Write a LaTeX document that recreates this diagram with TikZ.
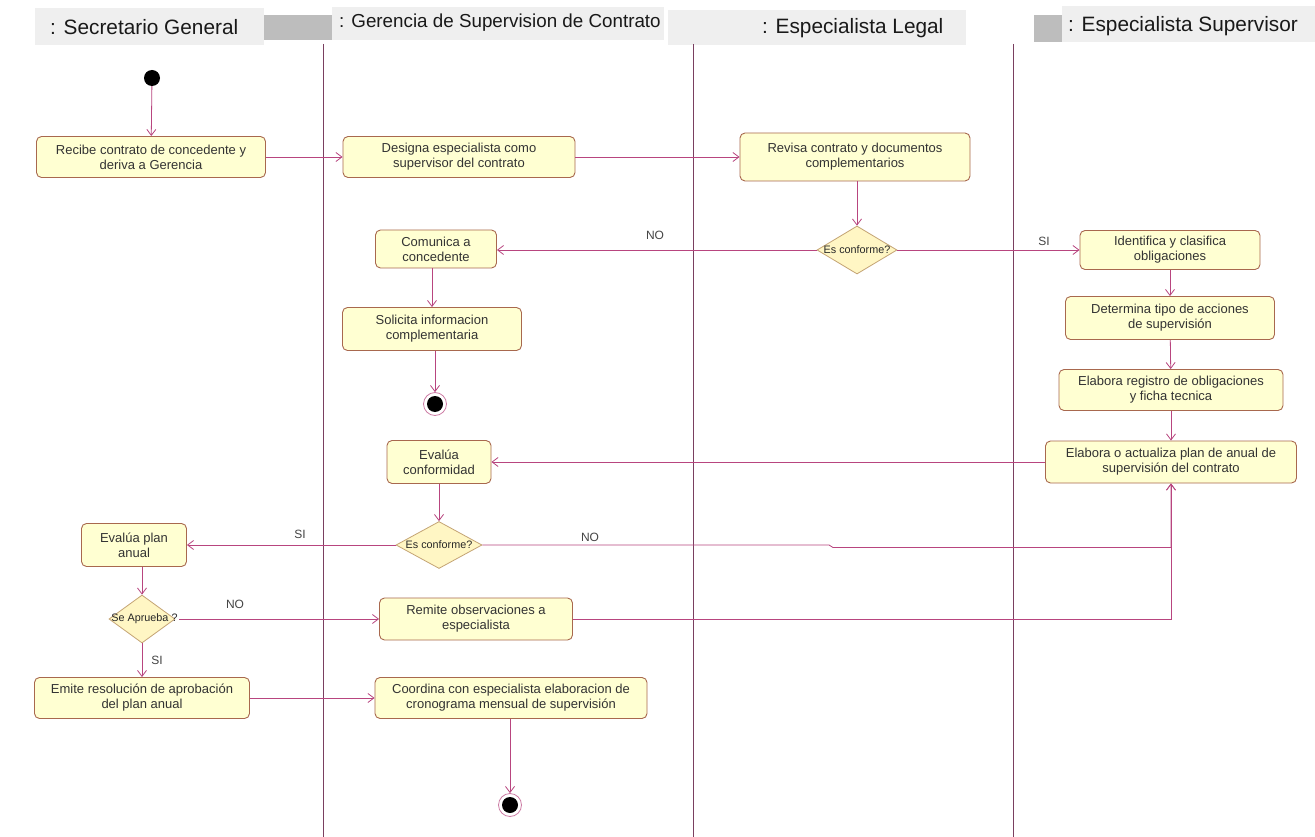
\documentclass[tikz,border=0pt]{standalone}
\usepackage{fontspec}
\setmainfont{Liberation Sans}
\usetikzlibrary{arrows.meta,shapes.geometric}
\definecolor{flow}{HTML}{B8457F}
\definecolor{lane}{HTML}{7A3F60}
\definecolor{actfill}{HTML}{FFFFD2}
\definecolor{actdraw}{HTML}{A8684E}
\definecolor{decfill}{HTML}{FFF6C4}
\definecolor{decdraw}{HTML}{C4A474}
\definecolor{hdr}{HTML}{EFEFEF}
\definecolor{hdrdark}{HTML}{BDBDBD}
\definecolor{lbl}{HTML}{444444}

\begin{document}
\begin{tikzpicture}[x=1pt,y=-1pt,
  act/.style={draw=actdraw, fill=actfill, rounded corners=5pt, line width=0.9pt,
    minimum height=41pt, align=center, font=\fontsize{13}{15}\selectfont,
    text=black!80, inner sep=2pt},
  dec/.style={diamond, draw=decdraw, fill=decfill, line width=0.8pt,
    minimum width=80pt, minimum height=48pt, inner sep=0pt,
    font=\fontsize{10.8}{11}\selectfont, text=black!85},
  flowline/.style={draw=flow, line width=0.8pt, -{Straight Barb[length=6pt,width=9pt]}},
  lanesep/.style={draw=lane, line width=0.9pt},
  hdrcell/.style={fill=hdr, draw=none},
  hdrpatch/.style={fill=hdrdark, draw=none},
  hdrtext/.style={font=\fontsize{20.8}{22}\selectfont, text=black!90, inner sep=0pt},
  guard/.style={font=\fontsize{12}{14}\selectfont, text=lbl, inner sep=0pt},
  startnode/.style={circle, fill=black, minimum size=16pt, inner sep=0pt},
  endnode/.style={circle, draw=flow!70, fill=white, line width=0.8pt, minimum size=23pt, inner sep=0pt,
    path picture={\fill[black] (path picture bounding box.center) circle (8pt);}}
]
\useasboundingbox (0,0) rectangle (1315,837);
\fill[white] (0,0) rectangle (1315,837);

% swimlane headers
\fill[hdrcell] (35,8) rectangle (264,45);
\fill[hdrpatch] (264,15) rectangle (332,40);
\fill[hdrcell] (332,7) rectangle (664,40);
\fill[hdrcell] (668,10) rectangle (966,45);
\fill[hdrpatch] (1034,15) rectangle (1062,42);
\fill[hdrcell] (1062,6) rectangle (1315,42);
\node[hdrtext, anchor=west] (h1) at (50,27) {: Secretario General};
\node[hdrtext, anchor=west, font=\fontsize{18.8}{20}\selectfont] (h2) at (339,23) {: Gerencia de Supervision de Contrato};
\node[hdrtext, anchor=west] (h3) at (762,28) {: Especialista Legal};
\node[hdrtext, anchor=west] (h4) at (1068,26) {: Especialista Supervisor};

% swimlane separators
\draw[lanesep] (323,44) -- (323,837);
\draw[lanesep] (693,44) -- (693,837);
\draw[lanesep] (1013,44) -- (1013,837);

% activities
\node[startnode] (ini) at (152,78) {};
\node[act, minimum width=229pt] (recibe) at (151,157) {Recibe contrato de concedente y\\deriva a Gerencia};
\node[act, minimum width=232pt] (designa) at (459,157) {Designa especialista como\\supervisor del contrato};
\node[act, minimum width=230pt, minimum height=48pt] (revisa) at (855,157) {Revisa contrato y documentos\\complementarios};
\node[dec] (d1) at (857,250) {\makebox[0pt]{Es conforme?}};
\node[act, minimum width=121pt, minimum height=38pt] (comunica) at (436,249) {Comunica a\\concedente};
\node[act, minimum width=179pt, minimum height=43pt] (solicita) at (432,329) {Solicita informacion\\complementaria};
\node[endnode] (fin1) at (435,404) {};

\node[act, minimum width=180pt, minimum height=39pt] (identifica) at (1170,250) {Identifica y clasifica\\obligaciones};
\node[act, minimum width=209pt, minimum height=43pt] (determina) at (1170,318) {Determina tipo de acciones\\de supervisión};
\node[act, minimum width=224pt] (registro) at (1171,390) {Elabora registro de obligaciones\\y ficha tecnica};
\node[act, minimum width=251pt, minimum height=42pt] (plan) at (1171,462) {Elabora o actualiza plan de anual de\\supervisión del contrato};

\node[act, minimum width=104pt, minimum height=43pt] (evconf) at (439,462) {Evalúa\\conformidad};
\node[dec, minimum width=86pt, minimum height=47pt] (d2) at (439,545) {\makebox[0pt]{Es conforme?}};
\node[act, minimum width=105pt, minimum height=43pt] (evplan) at (134,545) {Evalúa plan\\anual};
\node[dec, minimum width=66pt, minimum height=48pt] (d3) at (142,619) {\makebox[0pt]{\hspace{5pt}Se Aprueba ?}};
\node[act, minimum width=193pt, minimum height=42pt] (remite) at (476,619) {Remite observaciones a\\especialista};
\node[act, minimum width=215pt] (emite) at (142,698) {Emite resolución de aprobación\\del plan anual};
\node[act, minimum width=272pt] (coordina) at (511,698) {Coordina con especialista elaboracion de\\cronograma mensual de supervisión};
\node[endnode] (fin2) at (510,805) {};

% bend point where the NO flow of the second check steps down
\coordinate (jog) at (829,545);

% control flows
\draw[flowline] (ini) -- (recibe);
\draw[flowline] (recibe) -- (designa);
\draw[flowline] (designa) -- (revisa);
\draw[flowline] (revisa.south -| d1.north) -- (d1.north);
\draw[flowline] (d1.west) -- (d1.west -| comunica.east);
\draw[flowline] (d1.east) -- (d1.east -| identifica.west);
\draw[flowline] (comunica.south -| solicita.north) -- (solicita.north);
\draw[flowline] (solicita.south -| fin1.north) -- (fin1);
\draw[flowline] (identifica) -- (determina);
\draw[flowline] (determina) -- (registro);
\draw[flowline] (registro) -- (plan);
\draw[flowline] (plan) -- (evconf);
\draw[flowline] (evconf) -- (d2);
\draw[flowline] (d2) -- (evplan);
\draw[flowline] (d2.east) -- (jog) -- ++(4,2.5) -| (plan.south);
\draw[flowline] (evplan.south -| d3.north) -- (d3.north);
\draw[flowline] ([xshift=4pt]d3.east) -- (remite);
\draw[flowline] (d3) -- (d3 |- emite.north);
\draw[flowline] (remite.east) -| (plan.south);
\draw[flowline] (emite) -- (emite -| coordina.west);
\draw[flowline] (coordina.south -| fin2.north) -- (fin2);

% guards
\node[guard] (g1) at (655,235) {NO};
\node[guard] (g2) at (1044,241) {SI};
\node[guard] (g3) at (300,534) {SI};
\node[guard] (g4) at (590,537) {NO};
\node[guard] (g5) at (235,604) {NO};
\node[guard] (g6) at (157,660) {SI};
\end{tikzpicture}
\end{document}
